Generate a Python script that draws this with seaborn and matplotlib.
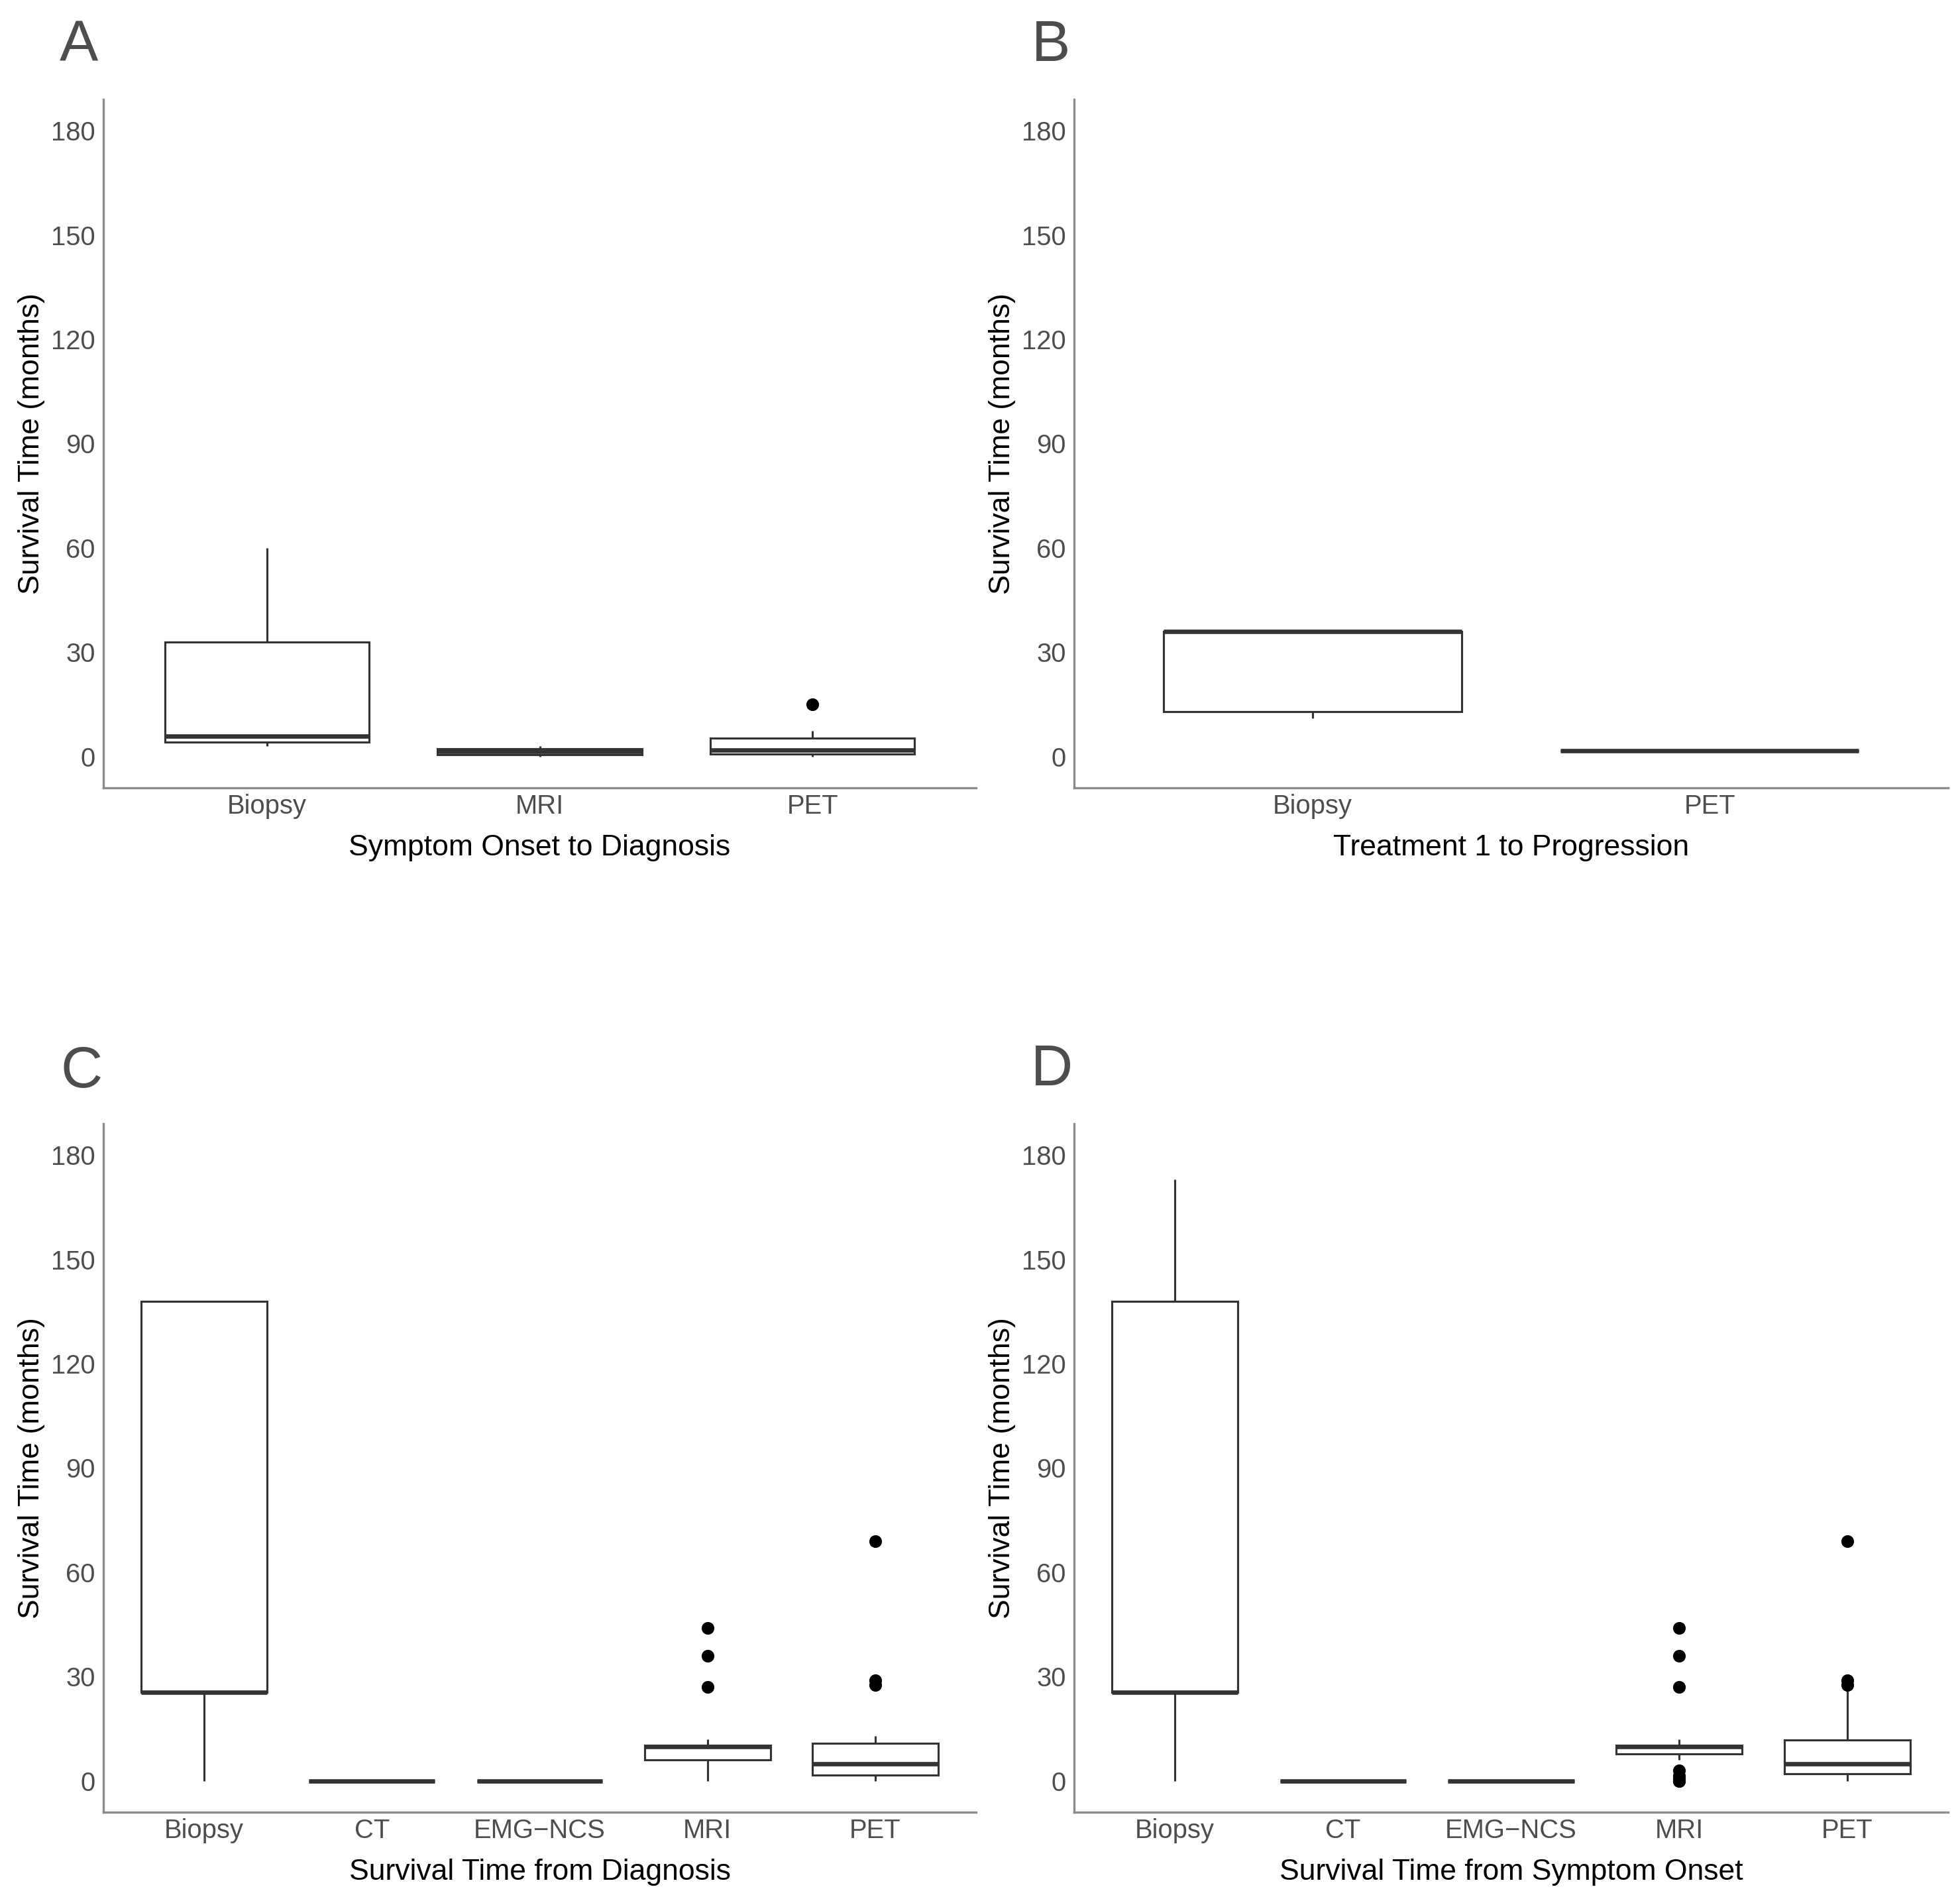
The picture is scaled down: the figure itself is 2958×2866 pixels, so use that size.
import numpy as np
import pandas as pd
import matplotlib
matplotlib.use("Agg")
import matplotlib.pyplot as plt
import seaborn as sns

# ---------------- data (months) ----------------
# Panel A: Symptom Onset to Diagnosis
a_categories = ["Biopsy", "MRI", "PET"]
a_biopsy = [3, 4.2, 5.8, 33, 60]
a_mri = [0, 0.5, 0.5, 1, 1.5, 2, 2.2, 2.5, 3]
a_pet = [0, 0.5, 0.8, 1.5, 1.9, 3, 5.3, 7.4, 15]

# Panel B: Treatment 1 to Progression
b_categories = ["Biopsy", "PET"]
b_biopsy = [11, 13, 36, 36, 36]
b_pet = [1.7, 1.7, 1.7]

# Panel C: Survival Time from Diagnosis
c_categories = ["Biopsy", "CT", "EMG\u2212NCS", "MRI", "PET"]
c_biopsy = [0, 25.5, 25.5, 138, 138]
c_ct = [0, 0, 0]
c_emg = [0, 0, 0]
c_mri = [0, 2, 4, 5, 6, 7, 8, 9, 9.8, 10, 10, 10, 10.2, 12, 27, 36, 44]
c_pet = [0, 0.5, 1, 1.5, 1.7, 2.5, 3, 4, 4.9, 6, 8, 9, 10.9, 13, 27.5, 29, 69]

# Panel D: Survival Time from Symptom Onset
d_categories = ["Biopsy", "CT", "EMG\u2212NCS", "MRI", "PET"]
d_biopsy = [0, 25.5, 25.5, 138, 173]
d_ct = [0, 0, 0]
d_emg = [0, 0, 0]
d_mri = [0, 0, 0.5, 1.5, 3, 6, 7.8, 8, 8.5, 9, 9.5, 9.7, 9.8, 10, 10, 10,
         10.1, 10.2, 10.3, 11, 11.5, 12, 27, 36, 44]
d_pet = [0, 0.5, 1, 1.5, 2, 2.5, 3, 4, 4.9, 6, 8, 10, 11.8, 26, 27.5, 29, 69]

y_ticks = [0, 30, 60, 90, 120, 150, 180]
y_label = "Survival Time (months)"

panels = [
    ("A", "Symptom Onset to Diagnosis", a_categories, [a_biopsy, a_mri, a_pet]),
    ("B", "Treatment 1 to Progression", b_categories, [b_biopsy, b_pet]),
    ("C", "Survival Time from Diagnosis", c_categories, [c_biopsy, c_ct, c_emg, c_mri, c_pet]),
    ("D", "Survival Time from Symptom Onset", d_categories, [d_biopsy, d_ct, d_emg, d_mri, d_pet]),
]

# ---------------- style ----------------
sns.set_theme(style="white")
plt.rcParams["font.family"] = ["Liberation Sans", "DejaVu Sans"]

W, H = 2958, 2866
DPI = 300
fig = plt.figure(figsize=(W / DPI, H / DPI), dpi=DPI)

# axes rectangles in pixels: (left, top, right, bottom)
rects = [
    (156, 150, 1473, 1189),
    (1621, 150, 2940, 1189),
    (156, 1696, 1473, 2735),
    (1621, 1696, 2940, 2735),
]
letter_pos = [(90, 92), (1557, 92), (92, 1641), (1556, 1638)]

line_col = "#333333"
axis_col = "#8C8C8C"
tick_col = "#4D4D4D"

for (letter, xtitle, cats, series), (l, t, r, b), (lx, ly) in zip(panels, rects, letter_pos):
    ax = fig.add_axes([l / W, 1 - b / H, (r - l) / W, (b - t) / H])
    df = pd.DataFrame({
        "group": np.concatenate([[c] * len(v) for c, v in zip(cats, series)]),
        "value": np.concatenate([np.asarray(v, dtype=float) for v in series]),
    })
    sns.boxplot(
        data=df, x="group", y="value", order=cats, ax=ax,
        color="white", saturation=1, linecolor=line_col, linewidth=0.75,
        width=0.75, whis=1.5, showcaps=False, fliersize=3.6,
        medianprops={"linewidth": 1.6, "color": line_col},
        flierprops={"marker": "o", "markerfacecolor": "black",
                    "markeredgecolor": "black", "markersize": 3.6},
    )
    n = len(cats)
    ax.set_xlim(-0.6, n - 0.4)
    ax.set_ylim(-9, 189)
    ax.set_yticks(y_ticks)
    ax.set_yticklabels([str(v) for v in y_ticks])
    for s in ["top", "right"]:
        ax.spines[s].set_visible(False)
    for s in ["left", "bottom"]:
        ax.spines[s].set_color(axis_col)
        ax.spines[s].set_linewidth(0.8)
    ax.tick_params(axis="both", length=0, labelsize=9.6, labelcolor=tick_col)
    ax.tick_params(axis="x", pad=2.2)
    ax.tick_params(axis="y", pad=3)
    ax.set_xlabel(xtitle, fontsize=10.7, color="black", labelpad=5.5)
    ax.set_ylabel(y_label, fontsize=10.7, color="black", labelpad=2.2)
    ax.grid(False)
    fig.text(lx / W, 1 - ly / H, letter, fontsize=21, color="#4D4D4D",
             ha="left", va="baseline")

fig.savefig("out.png", dpi=DPI, facecolor="white")
